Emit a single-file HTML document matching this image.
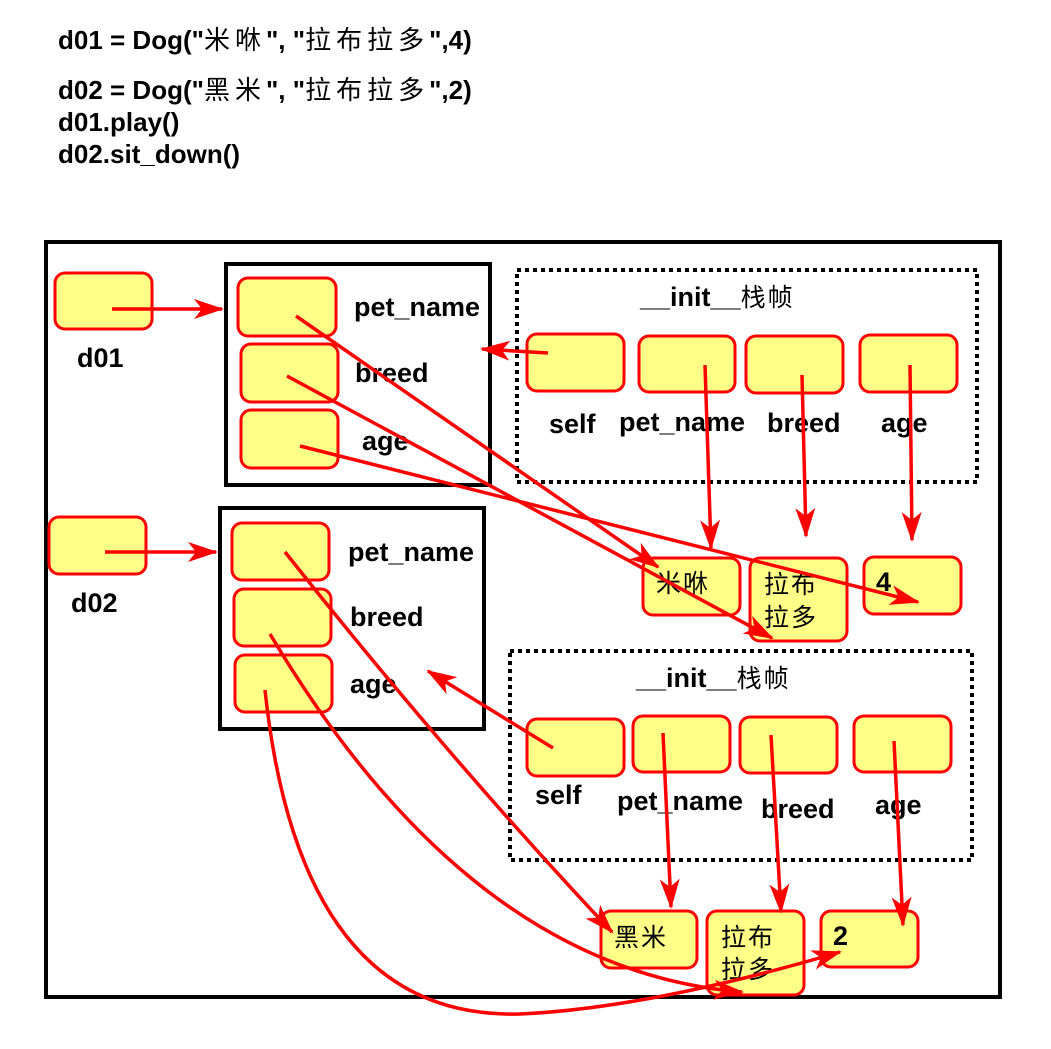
<!DOCTYPE html>
<html><head><meta charset="utf-8"><style>
html,body{margin:0;padding:0;background:#fff;}
svg{display:block;}
text{font-family:"Liberation Sans","Noto Sans CJK SC",sans-serif;}
.b{font-weight:bold;font-size:27px;fill:#000;}
.c{font-weight:bold;font-size:26px;fill:#000;}
.zc{font-size:26px;font-weight:normal;letter-spacing:5px;}
.z{font-size:25px;fill:#000;letter-spacing:2px;}
.f{fill:#ffff88;stroke:#f00;stroke-width:3;}
.a{stroke:#f00;stroke-width:3.5;fill:none;marker-end:url(#ah2);}
</style></head><body>
<svg width="1051" height="1049" viewBox="0 0 1051 1049" xmlns="http://www.w3.org/2000/svg">
<defs>
<marker id="ah2" viewBox="0 0 30 20" refX="28" refY="10" markerWidth="30" markerHeight="20" orient="auto" markerUnits="userSpaceOnUse">
<path d="M0,0 L30,10 L0,20 L8,10 Z" fill="#f00"/>
</marker>
</defs>

<text class="c" x="58" y="49">d01 = Dog("<tspan class="zc">米咻</tspan>", "<tspan class="zc">拉布拉多</tspan>",4)</text>
<text class="c" x="58" y="99">d02 = Dog("<tspan class="zc">黑米</tspan>", "<tspan class="zc">拉布拉多</tspan>",2)</text>
<text class="c" x="58" y="131">d01.play()</text>
<text class="c" x="58" y="163">d02.sit_down()</text>

<rect x="46" y="242" width="954" height="755" fill="none" stroke="#000" stroke-width="4"/>

<rect x="226" y="264" width="264" height="221" fill="none" stroke="#000" stroke-width="4"/>
<rect x="220" y="508" width="264" height="221" fill="none" stroke="#000" stroke-width="4"/>
<rect x="517" y="270" width="460" height="212" fill="none" stroke="#000" stroke-width="4" stroke-dasharray="4,4"/>
<rect x="510" y="651" width="462" height="209" fill="none" stroke="#000" stroke-width="4" stroke-dasharray="4,4"/>

<rect class="f" x="55" y="273" width="97" height="56" rx="10"/>
<rect class="f" x="49" y="517" width="97" height="57" rx="10"/>
<text class="b" x="77" y="367">d01</text>
<text class="b" x="71" y="612">d02</text>

<rect class="f" x="238" y="278" width="98" height="58" rx="10"/>
<rect class="f" x="241" y="344" width="97" height="58" rx="10"/>
<rect class="f" x="241" y="410" width="97" height="58" rx="10"/>
<text class="b" x="354" y="316">pet_name</text>
<text class="b" x="355" y="382">breed</text>
<text class="b" x="362" y="450">age</text>

<rect class="f" x="232" y="523" width="97" height="57" rx="10"/>
<rect class="f" x="234" y="589" width="97" height="57" rx="10"/>
<rect class="f" x="235" y="655" width="97" height="57" rx="10"/>
<text class="b" x="348" y="561">pet_name</text>
<text class="b" x="350" y="626">breed</text>
<text class="b" x="350" y="693">age</text>

<text class="b" x="640" y="306">__init__<tspan class="z" font-weight="normal">栈帧</tspan></text>
<rect class="f" x="527" y="334" width="97" height="57" rx="10"/>
<rect class="f" x="639" y="336" width="96" height="56" rx="10"/>
<rect class="f" x="746" y="336" width="97" height="57" rx="10"/>
<rect class="f" x="860" y="335" width="97" height="57" rx="10"/>
<text class="b" x="549" y="433">self</text>
<text class="b" x="619" y="431">pet_name</text>
<text class="b" x="767" y="432">breed</text>
<text class="b" x="881" y="432">age</text>

<rect class="f" x="643" y="558" width="97" height="57" rx="10"/>
<rect class="f" x="750" y="558" width="97" height="83" rx="10"/>
<rect class="f" x="864" y="557" width="97" height="57" rx="10"/>
<text class="z" x="656" y="592">米咻</text>
<text class="z" x="764" y="593">拉布</text>
<text class="z" x="764" y="626">拉多</text>
<text class="b" x="876" y="591">4</text>

<text class="b" x="636" y="687">__init__<tspan class="z" font-weight="normal">栈帧</tspan></text>
<rect class="f" x="527" y="719" width="97" height="57" rx="10"/>
<rect class="f" x="633" y="716" width="97" height="56" rx="10"/>
<rect class="f" x="740" y="717" width="97" height="56" rx="10"/>
<rect class="f" x="854" y="716" width="97" height="56" rx="10"/>
<text class="b" x="535" y="804">self</text>
<text class="b" x="617" y="810">pet_name</text>
<text class="b" x="761" y="818">breed</text>
<text class="b" x="875" y="814">age</text>

<rect class="f" x="601" y="911" width="96" height="57" rx="10"/>
<rect class="f" x="707" y="911" width="97" height="84" rx="10"/>
<rect class="f" x="821" y="911" width="97" height="56" rx="10"/>
<text class="z" x="614" y="946">黑米</text>
<text class="z" x="721" y="946">拉布</text>
<text class="z" x="721" y="978">拉多</text>
<text class="b" x="833" y="945">2</text>

<line class="a" x1="112" y1="309" x2="222" y2="309"/>
<line class="a" x1="105" y1="552" x2="216" y2="552"/>
<line class="a" x1="548" y1="353" x2="482" y2="349"/>
<line class="a" x1="705" y1="365" x2="711" y2="548"/>
<line class="a" x1="802" y1="375" x2="806" y2="536"/>
<line class="a" x1="910" y1="365" x2="912" y2="540"/>
<line class="a" x1="296" y1="316" x2="658" y2="567"/>
<line class="a" x1="287" y1="376" x2="772" y2="638"/>
<line class="a" x1="300" y1="446" x2="918" y2="602"/>
<line class="a" x1="553" y1="748" x2="428" y2="671"/>
<line class="a" x1="663" y1="733" x2="671" y2="907"/>
<line class="a" x1="771" y1="735" x2="781" y2="912"/>
<line class="a" x1="894" y1="741" x2="903" y2="925"/>
<path class="a" d="M285,552 Q450,760 612,932"/>
<path class="a" d="M270,634 Q470,970 742,992"/>
<path class="a" d="M265,690 Q300,1020 520,1014 Q650,1008 840,952"/>
</svg>
</body></html>
